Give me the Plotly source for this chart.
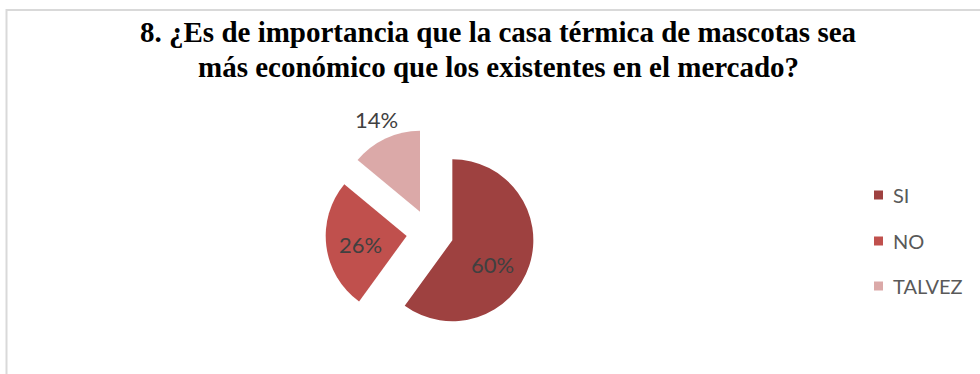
import plotly.graph_objects as go

W, H = 980, 374

# Survey answers and their shares (%)
labels = ["SI", "NO", "TALVEZ"]
values = [60, 26, 14]
colors = ["#9E4140", "#C0504D", "#DBA9A8"]

title_lines = [
    "8. ¿Es de importancia que la casa térmica de mascotas sea",
    "más económico que los existentes en el mercado?",
]

pull = 0.29
# pie box in pixels (centre 430,233; radius ~81 before pull space)
cx, cy, r = 430, 233, 81
half = r * (1 + pull)


def px(x):
    return x / W


def py(y):
    return 1 - y / H


fig = go.Figure()
fig.add_trace(go.Pie(
    labels=labels,
    values=values,
    marker=dict(colors=colors, line=dict(width=0)),
    pull=[pull] * len(values),
    sort=False,
    direction="clockwise",
    rotation=0,
    textinfo="none",
    hoverinfo="label+percent",
    showlegend=False,
    domain=dict(x=[px(cx - half), px(cx + half)], y=[py(cy + half), py(cy - half)]),
))

# percentage labels
label_pos = [(492, 264), (360, 244), (376, 120)]
annotations = []
for v, (lx, ly) in zip(values, label_pos):
    annotations.append(dict(
        x=px(lx), y=py(ly), xref="paper", yref="paper",
        text=f"{v}%", showarrow=False, xanchor="center", yanchor="middle",
        font=dict(family="Lato, Calibri, sans-serif", size=22, color="#404040"),
    ))

# title, two centred lines
for line, ty in zip(title_lines, [32, 67]):
    annotations.append(dict(
        x=px(498), y=py(ty), xref="paper", yref="paper",
        text=f"<b>{line}</b>", showarrow=False, xanchor="center", yanchor="middle",
        font=dict(family="Liberation Serif, Times New Roman, serif", size=29, color="#000000"),
    ))

# legend: squares and names
shapes = []
for name, col, ly in zip(labels, colors, [195, 241, 286]):
    shapes.append(dict(
        type="rect", xref="paper", yref="paper",
        x0=px(874), x1=px(883), y0=py(ly - 4.5), y1=py(ly + 4.5),
        fillcolor=col, line=dict(width=0),
    ))
    annotations.append(dict(
        x=px(891), y=py(ly), xref="paper", yref="paper",
        text=name, showarrow=False, xanchor="left", yanchor="middle",
        font=dict(family="Lato, Calibri, sans-serif", size=20, color="#595959"),
    ))

# chart area frame
shapes.append(dict(
    type="rect", xref="paper", yref="paper",
    x0=px(6.5), x1=px(W + 10), y0=py(H + 10), y1=py(10),
    line=dict(color="#D9D9D9", width=2), fillcolor="rgba(0,0,0,0)", layer="below",
))

fig.update_layout(
    width=W, height=H,
    margin=dict(l=0, r=0, t=0, b=0),
    paper_bgcolor="#FFFFFF",
    plot_bgcolor="#FFFFFF",
    annotations=annotations,
    shapes=shapes,
)

fig.write_html("out.html")
